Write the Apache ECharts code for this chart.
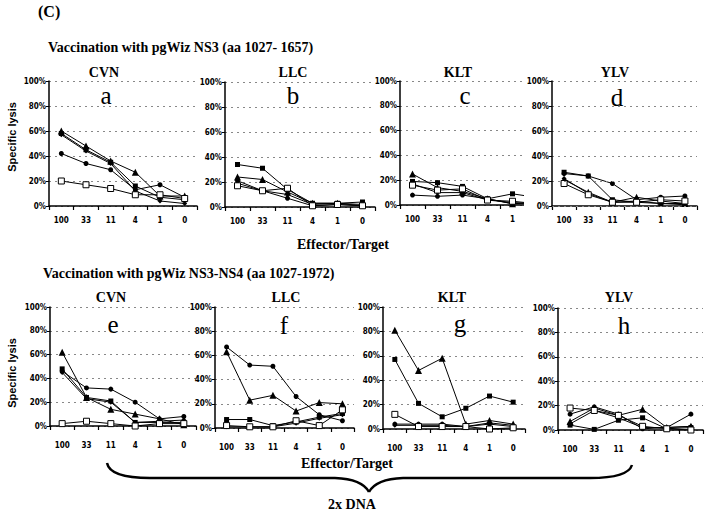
<!DOCTYPE html>
<html><head><meta charset="utf-8">
<script src="https://cdn.jsdelivr.net/npm/echarts@6/dist/echarts.min.js"></script>
<style>html,body{margin:0;padding:0;background:#fff}#c{width:709px;height:515px}</style>
</head><body><div id="c"></div>
<script>
// ---- data ----
const categories = ['100', '33', '11', '4', '1', '0'];
const panelNames = ['CVN', 'LLC', 'KLT', 'YLV', 'CVN', 'LLC', 'KLT', 'YLV'];
const panelLetters = ['a', 'b', 'c', 'd', 'e', 'f', 'g', 'h'];
const rowTitles = ['Vaccination with pgWiz NS3 (aa 1027- 1657)', 'Vaccination with pgWiz NS3-NS4 (aa 1027-1972)'];

// panel a (CVN, NS3)
const aTri = [60, 48, 36, 27, 8, 8];
const aSq = [58, 45, 35, 16, 7, 5];
const aCirc = [42, 34, 29, 13, 17, 7];
const aOpen = [20, 17, 14, 9, 9, 6];
const aDia = [57, 44, 34, 12, 4, 2];
// panel b (LLC, NS3)
const bTri = [24, 22, 12, 3, 3, 2];
const bSq = [34, 31, 14, 3, 3, 4];
const bCirc = [21, 13, 7, 1, 2, 1];
const bOpen = [17, 13, 15, 1, 2, 1];
const bDia = [19, 13, 10, 2, 3, 1];
// panel c (KLT, NS3)
const cTri = [25, 14, 11, 5, 1, 2];
const cSq = [19, 18, 15, 5, 9, 6];
const cCirc = [8, 7, 8, 5, 1, 1];
const cOpen = [16, 12, 13, 4, 3, 1];
const cDia = [17, 10, 10, 4, 2, 1];
// panel d (YLV, NS3)
const dTri = [21, 11, 3, 7, 4, 2];
const dSq = [27, 24, 5, 3, 2, 2];
const dCirc = [26, 24, 18, 5, 7, 8];
const dOpen = [18, 9, 3, 3, 5, 4];
const dDia = [22, 10, 3, 4, 2, 1];
// panel e (CVN, NS3-NS4)
const eTri = [62, 24, 14, 10, 6, 1];
const eSq = [48, 24, 21, 3, 3, 3];
const eCirc = [46, 32, 31, 20, 6, 8];
const eOpen = [2, 4, 2, 0, 2, 2];
const eDia = [45, 23, 20, 3, 4, 5];
// panel f (LLC, NS3-NS4)
const fTri = [63, 23, 27, 14, 21, 20];
const fSq = [7, 7, 2, 5, 9, 12];
const fCirc = [67, 52, 51, 26, 11, 6];
const fOpen = [2, 1, 1, 6, 2, 15];
const fDia = [1, 1, 1, 4, 8, 11];
// panel g (KLT, NS3-NS4)
const gTri = [81, 48, 58, 4, 7, 4];
const gSq = [57, 21, 10, 17, 27, 22];
const gCirc = [4, 4, 4, 2, 4, 2];
const gOpen = [12, 2, 2, 2, 0, 1];
const gDia = [3, 3, 3, 2, 5, 3];
// panel h (YLV, NS3-NS4)
const hTri = [7, 18, 12, 17, 2, 3];
const hSq = [4, 0.5, 8, 10, 1, 2];
const hCirc = [13, 19, 13, 1, 2, 13];
const hOpen = [18, 16, 12, 3, 1, 0];
const hDia = [5, 16, 10, 2, 2, 3];

const panelData = [
  [aTri, aSq, aCirc, aOpen, aDia], [bTri, bSq, bCirc, bOpen, bDia],
  [cTri, cSq, cCirc, cOpen, cDia], [dTri, dSq, dCirc, dOpen, dDia],
  [eTri, eSq, eCirc, eOpen, eDia], [fTri, fSq, fCirc, fOpen, fDia],
  [gTri, gSq, gCirc, gOpen, gDia], [hTri, hSq, hCirc, hOpen, hDia]
];

// ---- layout ----
const grids = [
  {left: 49, top: 81, width: 148, height: 125},
  {left: 225, top: 82, width: 150, height: 125},
  {left: 400, top: 81, width: 150, height: 124},
  {left: 552, top: 81, width: 145, height: 125},
  {left: 50, top: 307, width: 146, height: 119},
  {left: 215, top: 307, width: 139, height: 121},
  {left: 383, top: 307, width: 142, height: 122},
  {left: 558, top: 308, width: 145, height: 122}
];
const nameX = [104, 293, 458, 615, 111, 286, 452, 619];
const nameY = [72, 72, 72, 72, 297, 297, 297, 297];
const letterX = [106, 293, 465, 617, 113, 284, 460, 624];
const letterY = [95, 95, 95, 97, 324, 325, 323, 325];

const narrow = "'Liberation Sans Narrow', 'Arial Narrow', 'DejaVu Sans Condensed', sans-serif";
const serif = "'Liberation Serif', 'Times New Roman', serif";
const sans = "'Liberation Sans', Arial, sans-serif";

const symStyles = [
  {symbol: 'triangle', symbolSize: 7, itemStyle: {color: '#000'}},
  {symbol: 'rect', symbolSize: 5, itemStyle: {color: '#000'}},
  {symbol: 'circle', symbolSize: 5, itemStyle: {color: '#000'}},
  {symbol: 'rect', symbolSize: 6, itemStyle: {color: '#fff', borderColor: '#000', borderWidth: 1}},
  {symbol: 'diamond', symbolSize: 5, itemStyle: {color: '#000'}}
];

const xAxes = [], yAxes = [], series = [];
grids.forEach((g, i) => {
  xAxes.push({
    gridIndex: i, type: 'category', data: categories, boundaryGap: true,
    axisLine: {lineStyle: {color: '#000', width: 1.5}},
    axisTick: {show: true, length: 4, lineStyle: {color: '#000', width: 1.2}},
    axisLabel: {color: '#000', fontSize: 8, fontWeight: 'bold', fontFamily: narrow, margin: i < 4 ? 10 : 15, interval: 0},
    splitLine: {show: false}
  });
  yAxes.push({
    gridIndex: i, type: 'value', min: 0, max: 100, interval: 20,
    z: i === 3 ? 10 : 0,
    axisLine: {show: true, lineStyle: {color: '#000', width: 1.5}},
    axisTick: {show: true, length: 3, lineStyle: {color: '#000'}},
    axisLabel: {color: '#000', fontSize: 8, fontWeight: 'bold', fontFamily: narrow, margin: 3, formatter: '{value}%'},
    splitLine: {show: true, lineStyle: {color: '#888', type: [2, 4], width: 1}}
  });
  panelData[i].forEach((arr, k) => {
    series.push(Object.assign({
      type: 'line', xAxisIndex: i, yAxisIndex: i, data: arr,
      lineStyle: {color: '#000', width: 1}, showAllSymbol: true,
      animation: false, z: 2 + (k === 3 ? 1 : 0)
    }, symStyles[k]));
  });
});

const texts = [];
function txt(x, y, s, font, align, vAlign, rot) {
  const el = {type: 'text', x: x, y: y, z: 20,
    style: {text: s, font: font, fill: '#000', align: align || 'left', verticalAlign: vAlign || 'middle'}};
  if (rot) el.rotation = rot;
  texts.push(el);
}
txt(38, 11, '(C)', 'bold 16px ' + serif);
txt(48, 47, rowTitles[0], 'bold 14px ' + serif);
txt(43, 273, rowTitles[1], 'bold 14px ' + serif);
panelNames.forEach((n, i) => txt(nameX[i], nameY[i], n, 'bold 14px ' + serif, 'center'));
panelLetters.forEach((l, i) => txt(letterX[i], letterY[i], l, '25px ' + serif, 'center', 'middle'));
txt(343, 244, 'Effector/Target', 'bold 14px ' + serif, 'center');
txt(347, 463, 'Effector/Target', 'bold 14px ' + serif, 'center');
txt(352, 504, '2x DNA', 'bold 14px ' + serif, 'center');
txt(12, 137, 'Specific lysis', 'bold 11px ' + sans, 'center', 'middle', Math.PI / 2);
txt(12, 373, 'Specific lysis', 'bold 11px ' + sans, 'center', 'middle', Math.PI / 2);

const braceStyle = {stroke: '#000', fill: null, lineWidth: 2.5};
const brace = [
  {type: 'bezierCurve', z: 20, shape: {x1: 107, y1: 463, cpx1: 110, cpy1: 478, x2: 150, y2: 478}, style: braceStyle},
  {type: 'line', z: 20, shape: {x1: 150, y1: 478, x2: 335, y2: 478}, style: braceStyle},
  {type: 'bezierCurve', z: 20, shape: {x1: 335, y1: 478, cpx1: 362, cpy1: 479, x2: 369, y2: 492}, style: braceStyle},
  {type: 'bezierCurve', z: 20, shape: {x1: 369, y1: 492, cpx1: 376, cpy1: 479, x2: 403, y2: 478}, style: braceStyle},
  {type: 'line', z: 20, shape: {x1: 403, y1: 478, x2: 590, y2: 478}, style: braceStyle},
  {type: 'bezierCurve', z: 20, shape: {x1: 590, y1: 478, cpx1: 628, cpy1: 478, x2: 632, y2: 465}, style: braceStyle}
];

const chart = echarts.init(document.getElementById('c'), null, {renderer: 'svg'});
chart.setOption({
  animation: false,
  backgroundColor: '#fff',
  grid: grids.map(g => Object.assign({containLabel: false}, g)),
  xAxis: xAxes, yAxis: yAxes, series: series,
  graphic: [
    {type: 'rect', shape: {x: 524, y: 74, width: 27, height: 160}, style: {fill: '#fff'}, z: 5}
  ].concat(brace, texts)
});
</script></body></html>
